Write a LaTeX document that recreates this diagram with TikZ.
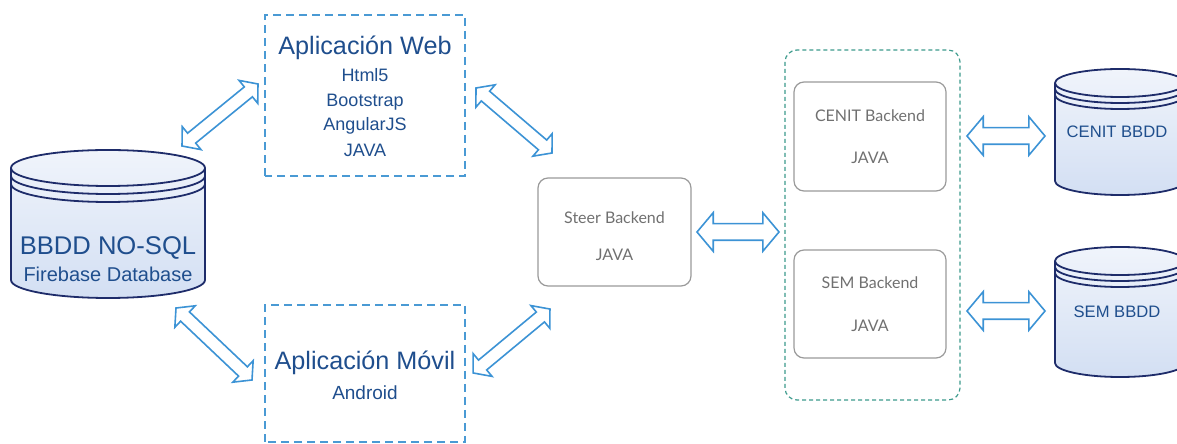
\documentclass[tikz,border=0pt]{standalone}
\usepackage{fontspec}
\setmainfont{Liberation Sans}
\newfontfamily\latofont{Lato}
\usetikzlibrary{calc,shapes.arrows}

\definecolor{navytext}{HTML}{1F4E8D}
\definecolor{dashblue}{HTML}{4A9AD4}
\definecolor{arrowblue}{HTML}{3C93D5}
\definecolor{tealdash}{HTML}{3C9A8C}
\definecolor{boxgray}{HTML}{9A9A9A}
\definecolor{graytext}{HTML}{707070}
\definecolor{cylline}{HTML}{1E2C6A}
\definecolor{cylfill}{HTML}{D3DFF3}
\definecolor{cyltop}{HTML}{F0F4FB}

\tikzset{
  appbox/.style={draw=dashblue, line width=0.8pt, dash pattern=on 4pt off 2.5pt},
  backbox/.style={draw=boxgray, line width=0.6pt, rounded corners=5pt},
  groupbox/.style={draw=tealdash, line width=0.6pt, dash pattern=on 2pt off 1.5pt, rounded corners=6pt},
  apptitle/.style={anchor=base, text=navytext, font=\fontsize{12.6}{15}\selectfont},
  appitem/.style={anchor=base, text=navytext, font=\fontsize{9}{11}\selectfont},
  dbtitle/.style={anchor=base, text=navytext, font=\fontsize{12.8}{15}\selectfont},
  dbsub/.style={anchor=base, text=navytext, font=\fontsize{10}{12}\selectfont},
  dbsmall/.style={anchor=base, text=navytext, font=\fontsize{8.3}{10}\selectfont},
  backtext/.style={anchor=base, text=graytext, font=\latofont\fontsize{8}{10}\selectfont},
  dblarrow/.style={double arrow, draw=arrowblue, line width=0.8pt, fill=white,
    inner xsep=0pt, inner ysep=3.75pt, double arrow head extend=5.5pt,
    double arrow tip angle=100},
  thinarrow/.style={inner ysep=2.8pt, double arrow head extend=4.2pt}
}

% cx, ytop, ybottom, rx, ry, ring gap
\newcommand{\dbcyl}[6]{%
  \shade[top color=cyltop, bottom color=cylfill] ({#1-#4},#2) -- ({#1-#4},#3)
    arc[start angle=180, end angle=360, x radius=#4, y radius=#5] -- ({#1+#4},#2)
    arc[start angle=0, end angle=180, x radius=#4, y radius=#5] -- cycle;
  \draw[cylline, line width=0.9pt] ({#1-#4},#2) -- ({#1-#4},#3)
    arc[start angle=180, end angle=360, x radius=#4, y radius=#5] -- ({#1+#4},#2);
  \draw[cylline, line width=0.9pt] (#1,#2) ellipse [x radius=#4, y radius=#5];
  \draw[cylline, line width=0.9pt] ({#1-#4},{#2-#6})
    arc[start angle=180, end angle=360, x radius=#4, y radius=#5];
  \draw[cylline, line width=0.9pt] ({#1-#4},{#2-2*#6})
    arc[start angle=180, end angle=360, x radius=#4, y radius=#5];
}

% hollow double arrow between two named points
\newcommand{\linkarrow}[3][]{%
  \path let \p1=($(#3)-(#2)$) in
    node[dblarrow, #1, rotate={atan2(\y1,\x1)}, minimum height={veclen(\x1,\y1)}]
      at ($(#2)!0.5!(#3)$) {};}

\begin{document}
\begin{tikzpicture}[x=0.5pt,y=0.5pt]
    \useasboundingbox (0,0) rectangle (1177,444);

    % base de datos principal
    \dbcyl{108}{276}{164}{97}{18}{8}
    \node[dbtitle] (nosql) at (108,189) {BBDD NO-SQL};
    \node[dbsub] (firebase) at (108,162) {Firebase Database};

    % aplicacion web
    \draw[appbox] (265,268) rectangle (465,429);
    \node[apptitle] (web) at (365,389) {Aplicación Web};
    \node[appitem] (html) at (365,362) {Html5};
    \node[appitem] (boot) at (365,337) {Bootstrap};
    \node[appitem] (angular) at (365,313) {AngularJS};
    \node[appitem] (webjava) at (365,287) {JAVA};

    % aplicacion movil
    \draw[appbox] (265,2) rectangle (465,139);
    \node[apptitle] (movil) at (365,74) {Aplicación Móvil};
    \node[appitem, font=\fontsize{9.5}{11}\selectfont] (android) at (365,44) {Android};

    % steer
    \draw[backbox] (538,158) rectangle (691,266);
    \node[backtext] (steer) at (614.5,220) {Steer Backend};
    \node[backtext] (steerjava) at (614.5,183) {JAVA};

    % backends
    \draw[groupbox] (785,44) rectangle (960,394);
    \draw[backbox] (794,253) rectangle (946,362);
    \node[backtext] (cenit) at (870,322) {CENIT Backend};
    \node[backtext] (cenitjava) at (870,280) {JAVA};
    \draw[backbox] (794,86) rectangle (946,194);
    \node[backtext] (sem) at (870,155) {SEM Backend};
    \node[backtext] (semjava) at (870,112) {JAVA};

    % bases de datos
    \dbcyl{1120}{361}{263}{65}{14}{6}
    \node[dbsmall] (cenitdb) at (1117,306) {CENIT BBDD};
    \dbcyl{1120}{183}{81}{65}{14}{6}
    \node[dbsmall] (semdb) at (1117,126) {SEM BBDD};

    % flechas
    \coordinate (a1) at (182,298); \coordinate (a2) at (258,360);
    \coordinate (b1) at (476,356); \coordinate (b2) at (552,291);
    \coordinate (c1) at (176,136); \coordinate (c2) at (252,64);
    \coordinate (d1) at (473,71);  \coordinate (d2) at (550,135);
    \coordinate (e1) at (697,212); \coordinate (e2) at (779,212);
    \coordinate (f1) at (967,308); \coordinate (f2) at (1045,308);
    \coordinate (g1) at (967,133); \coordinate (g2) at (1045,133);

    \linkarrow[thinarrow]{a1}{a2}
    \linkarrow[thinarrow]{b1}{b2}
    \linkarrow[thinarrow]{c1}{c2}
    \linkarrow[thinarrow]{d1}{d2}
    \linkarrow{e1}{e2}
    \linkarrow{f1}{f2}
    \linkarrow{g1}{g2}
\end{tikzpicture}
\end{document}
